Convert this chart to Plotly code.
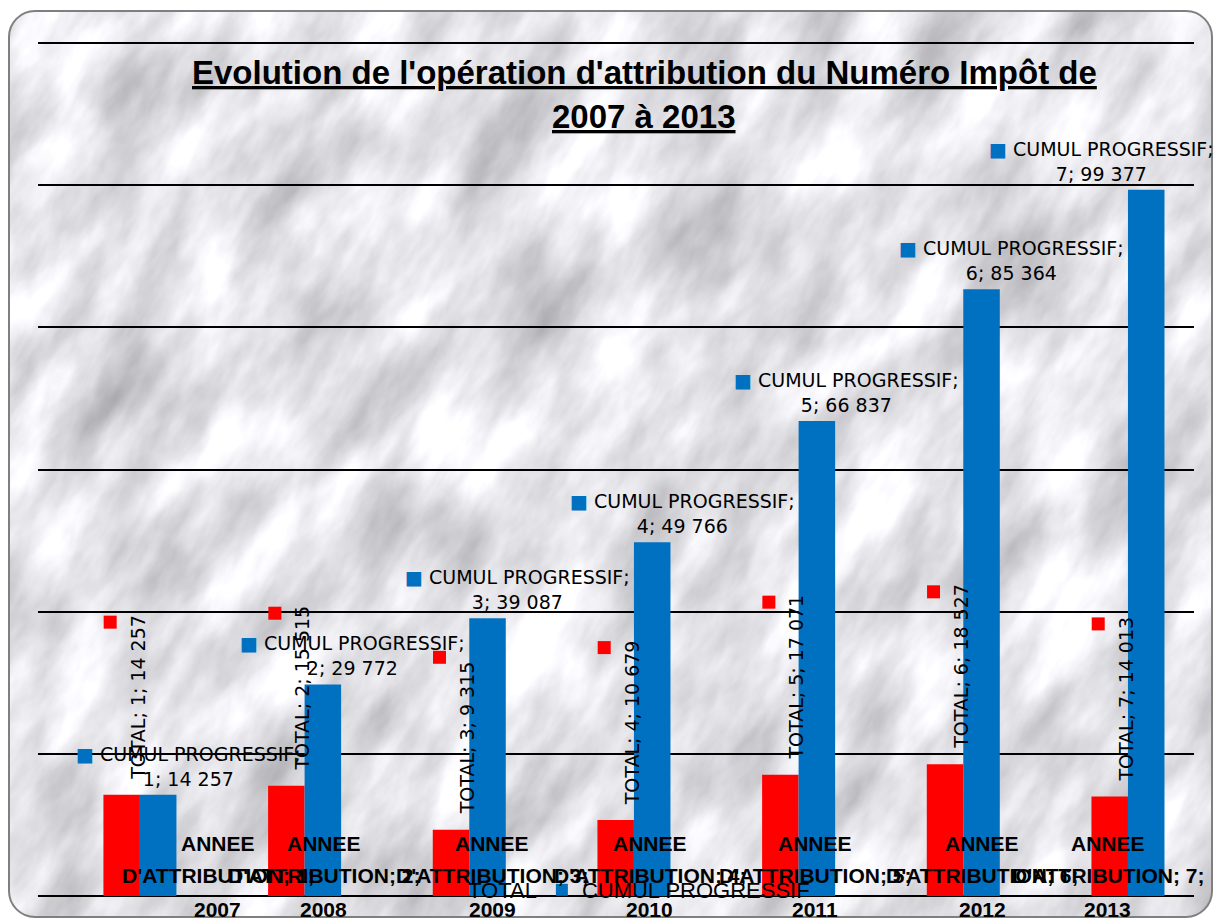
import base64
import plotly.graph_objects as go

# ---------------- data ----------------
years = ["2007", "2008", "2009", "2010", "2011", "2012", "2013"]
total = [14257, 15515, 9315, 10679, 17071, 18527, 14013]
cumul = [14257, 29772, 39087, 49766, 66837, 85364, 99377]
series_names = ["TOTAL", "CUMUL PROGRESSIF"]
title_lines = ["Evolution de l'opération d'attribution du Numéro Impôt de", "2007 à 2013"]

# ---------------- layout constants ----------------
W, H = 1214, 922
ML, MR, MT, MB = 38, 20, 42, 25
PW, PH = W - ML - MR, H - MT - MB
XMIN, XMAX = -0.619, 6.401
PXU = PW / (XMAX - XMIN)
BARW = 0.2217                 # width of one bar in category units
RED, BLUE = "#FF0000", "#0070C0"
LBL_FONT = "DejaVu Sans"
CAT_FONT = "Liberation Sans, Arial, sans-serif"
cat_label_shift = [78, 19, 23, 16, 16, 19, -20]   # px offsets of the category labels

def fmt(v):
    return f"{v:,}".replace(",", " ")

def px_x(xv):
    return ML + (xv - XMIN) * PXU

idx = list(range(len(years)))

fig = go.Figure()
fig.add_trace(go.Bar(x=idx, y=total, name=series_names[0], marker=dict(color=RED, line=dict(width=0))))
fig.add_trace(go.Bar(x=idx, y=cumul, name=series_names[1], marker=dict(color=BLUE, line=dict(width=0))))

annotations = []
shapes = []

# title
for k, (line, ypx) in enumerate(zip(title_lines, [73, 117])):
    annotations.append(dict(
        xref="paper", yref="paper", x=(644 - ML) / PW, y=(H - MB - ypx) / PH,
        xanchor="center", yanchor="middle", showarrow=False,
        text=f"<b><span style='text-decoration:underline'>{line}</span></b>",
        font=dict(family=CAT_FONT, size=33, color="black")))

# data labels
for i in idx:
    rc = i - BARW / 2
    bc = i + BARW / 2
    # red vertical label
    annotations.append(dict(
        x=rc, y=total[i], xref="x", yref="y", showarrow=False, textangle=-90,
        xanchor="center", yanchor="bottom", xshift=16, yshift=13,
        text=f"{series_names[0]}; {i + 1}; {fmt(total[i])}",
        font=dict(family=LBL_FONT, size=19, color="black")))
    shapes.append(dict(
        type="rect", xref="x", yref="y", xsizemode="pixel", ysizemode="pixel",
        xanchor=rc, yanchor=total[i], x0=-18, x1=-5, y0=166, y1=179,
        fillcolor=RED, line=dict(width=0)))
    # blue label (clamped to right edge)
    half = 110
    xs = 30
    if px_x(bc) + xs + half > W - 2:
        xs = (W - 2 - half) - px_x(bc)
    annotations.append(dict(
        x=bc, y=cumul[i], xref="x", yref="y", showarrow=False,
        xanchor="center", yanchor="bottom", xshift=xs, yshift=3, align="center",
        text=f"<span style='color:{BLUE}'>■</span> {series_names[1]};<br>{i + 1}; {fmt(cumul[i])}",
        font=dict(family=LBL_FONT, size=19, color="black")))
    # category labels (three rows)
    for txt, ysh in [("ANNEE", 53), (f"D'ATTRIBUTION; {i + 1};", 21), (years[i], -13)]:
        annotations.append(dict(
            x=i, y=0, xref="x", yref="y", showarrow=False,
            xanchor="center", yanchor="middle", xshift=cat_label_shift[i], yshift=ysh,
            text=f"<b>{txt}</b>", font=dict(family=CAT_FONT, size=21, color="black")))

# marble background as svg image
svg = f'''<svg xmlns="http://www.w3.org/2000/svg" width="{W}" height="{H}" viewBox="0 0 {W} {H}">
<defs>
<filter id="m" filterUnits="userSpaceOnUse" x="-600" y="-600" width="2400" height="2200" color-interpolation-filters="sRGB">
<feTurbulence type="fractalNoise" baseFrequency="0.018 0.007" numOctaves="5" seed="11"/>
<feColorMatrix type="matrix" values="0.5 0 0 0 0.64  0.5 0 0 0 0.64  0.5 0 0 0 0.66  0 0 0 0 1"/>
</filter>
<clipPath id="c"><rect x="9" y="11" width="1203" height="907" rx="26"/></clipPath>
</defs>
<rect width="{W}" height="{H}" fill="white"/>
<g clip-path="url(#c)"><rect x="-600" y="-600" width="2400" height="2200" filter="url(#m)" transform="rotate(30 607 461)"/></g>
<rect x="9" y="11" width="1203" height="907" rx="26" fill="none" stroke="#7f7f7f" stroke-width="2"/>
</svg>'''
src = "data:image/svg+xml;base64," + base64.b64encode(svg.encode("utf-8")).decode("ascii")

fig.update_layout(
    width=W, height=H, autosize=False,
    margin=dict(l=ML, r=MR, t=MT, b=MB, pad=0),
    paper_bgcolor="white", plot_bgcolor="rgba(0,0,0,0)",
    barmode="group", bargap=1 - 2 * BARW, bargroupgap=0,
    showlegend=True,
    legend=dict(orientation="h", x=(428 - ML) / PW, xanchor="left", y=(H - MB - 890) / PH, yanchor="middle",
                bgcolor="rgba(0,0,0,0)", font=dict(family=CAT_FONT, size=22, color="black"),
                traceorder="normal"),
    xaxis=dict(range=[XMIN, XMAX], showticklabels=False, showgrid=False, zeroline=False,
               showline=False, ticks="", fixedrange=True),
    yaxis=dict(range=[0, 120150], tick0=0, dtick=20000, showticklabels=False, showgrid=True,
               gridcolor="black", gridwidth=2, zeroline=True, zerolinecolor="black",
               zerolinewidth=2, showline=False, ticks="", fixedrange=True),
    annotations=annotations, shapes=shapes,
    images=[dict(source=src, xref="paper", yref="paper", x=-ML / PW, y=1 + MT / PH,
                 sizex=W / PW, sizey=H / PH, xanchor="left", yanchor="top",
                 sizing="stretch", layer="below")],
)

fig.write_html("out.html", config={"displayModeBar": False},
               post_script="document.body.style.margin='0';document.body.style.padding='0';")
